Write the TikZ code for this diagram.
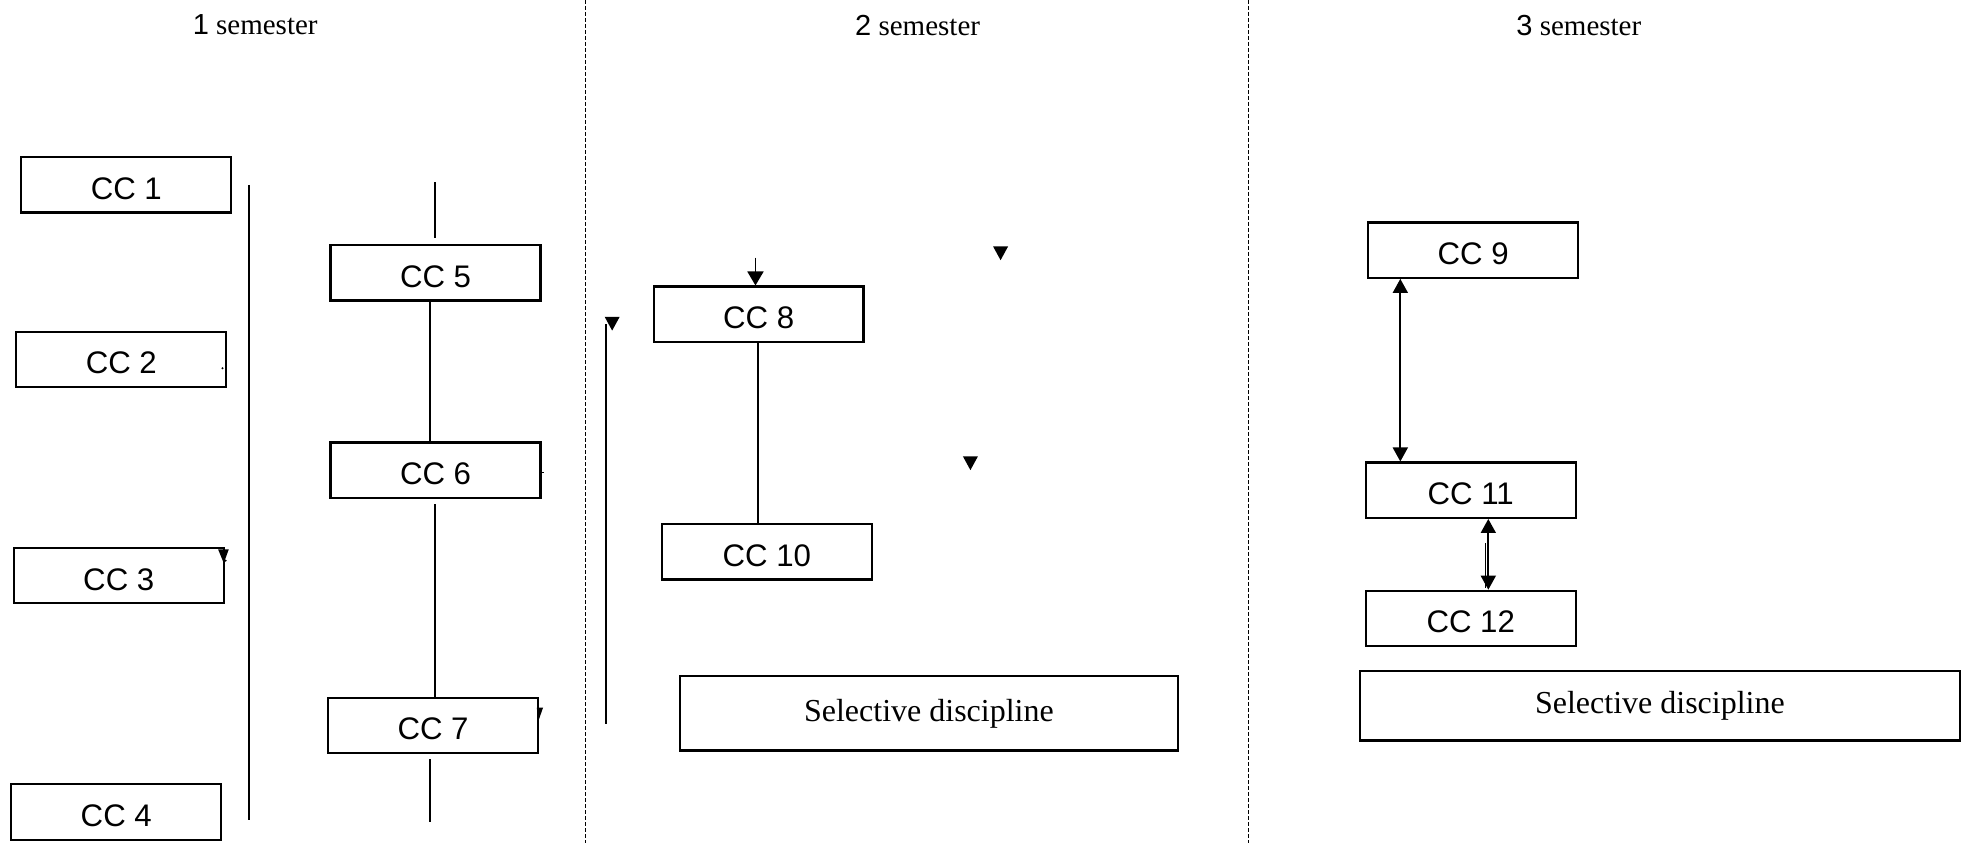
\documentclass[tikz,border=0pt]{standalone}
\usepackage{fontspec}
\setmainfont{Liberation Serif}
\newfontfamily\arialf{Liberation Sans}
\usetikzlibrary{arrows.meta}
\begin{document}
\begin{tikzpicture}[x=0.6285pt,y=-0.6285pt,
 ccbox/.style={draw,line width=1.1pt,minimum width=104.96pt,minimum height=27.65pt,inner sep=0pt,text height=14.4pt,text depth=0pt,font=\arialf\fontsize{15.6}{18}\selectfont},
 selbox/.style={draw,line width=1.1pt,inner sep=0pt,font=\fontsize{16}{19}\selectfont},
 conn/.style={line width=0.85pt},
 sep/.style={line width=0.5pt,dash pattern=on 2pt off 1pt},
 hdr/.style={font=\fontsize{14.5}{17}\selectfont},
 tip/.style={-{Triangle[width=8pt,length=7pt]}},
 dtip/.style={{Triangle[width=7.5pt,length=7pt]}-{Triangle[width=7.5pt,length=7pt]}}
]
\useasboundingbox (0,0) rectangle (1568,671);
% separators
\coordinate (s1t) at (466,0); \coordinate (s1b) at (466,671);
\coordinate (s2t) at (993,0); \coordinate (s2b) at (993,671);
\draw[sep] (s1t) -- (s1b);
\draw[sep] (s2t) -- (s2b);
% headers
\node[hdr] (h1) at (203,20) {{\arialf 1} semester};
\node[hdr] (h2) at (730,20) {{\arialf 2} semester};
\node[hdr] (h3) at (1256,20) {{\arialf 3} semester};
% semester 1
\node[ccbox] (cc1) at (100.5,147) {CC 1};
\node[ccbox] (cc2) at (96.5,286) {CC 2};
\node[ccbox] (cc3) at (94.5,458) {CC 3};
\node[ccbox] (cc4) at (92.5,646) {CC 4};
\node[ccbox] (cc5) at (346.5,217) {CC 5};
\node[ccbox] (cc6) at (346.5,374) {CC 6};
\node[ccbox] (cc7) at (344.5,577) {CC 7};
\coordinate (la1) at (198,147); \coordinate (la2) at (198,652);
\draw[conn] (la1) -- (la2);
\coordinate (t5) at (346,145); \coordinate (t5b) at (346,189);
\draw[conn] (t5) -- (t5b);
\draw[conn] ([xshift=-2.8pt]cc5.south) -- ([xshift=-2.8pt]cc6.north);
\coordinate (c6b) at (346,401);
\draw[conn] (c6b) -- (cc7.north -| c6b);
\coordinate (c7b) at (342,604); \coordinate (c7e) at (342,654);
\draw[conn] (c7b) -- (c7e);
% small marks
\fill (173.5,437) -- (182,437) -- (178,448) -- cycle;
\fill (179.5,446) circle (0.9);
\fill (427,563) -- (432,563) -- (428.5,573) -- cycle;
\fill (177,293) circle (0.9);
\draw[line width=0.5pt] (430,202) -- (430,207);
\draw[line width=0.5pt] (430.5,376) -- (432.5,376);
% semester 2
\node[ccbox] (cc8) at (603.5,250) {CC 8};
\node[ccbox] (cc10) at (610,439) {CC 10};
\node[selbox,minimum width=248.9pt,minimum height=37.1pt] (sd2) at (739,567.5) {Selective discipline};
\coordinate (a8) at (601,205);
\draw[conn,tip] (a8) -- (cc8.north -| a8);
\coordinate (x810) at (603,0);
\draw[conn] (cc8.south -| x810) -- (cc10.north -| x810);
\coordinate (lb1) at (482,258); \coordinate (lb2) at (482,576);
\draw[conn] (lb1) -- (lb2);
\fill (481,252) -- (493,252) -- (487,263) -- cycle;
\fill (790,196) -- (802,196) -- (796,207) -- cycle;
\fill (766,363) -- (778,363) -- (772,374) -- cycle;
% semester 3
\node[ccbox] (cc9) at (1172,199) {CC 9};
\node[ccbox] (cc11) at (1170,390) {CC 11};
\node[ccbox] (cc12) at (1170,492) {CC 12};
\node[selbox,minimum width=299.8pt,minimum height=34.6pt] (sd3) at (1320.5,561.5) {Selective discipline};
\coordinate (x911) at (1114,0);
\draw[conn,dtip] (cc9.south -| x911) -- (cc11.north -| x911);
\coordinate (x1112) at (1184,0);
\draw[conn,dtip] (cc11.south -| x1112) -- (cc12.north -| x1112);
\coordinate (e1) at (1181.5,432); \coordinate (e2) at (1181.5,468);
\draw[line width=0.5pt] (e1) -- (e2);
\end{tikzpicture}
\end{document}
